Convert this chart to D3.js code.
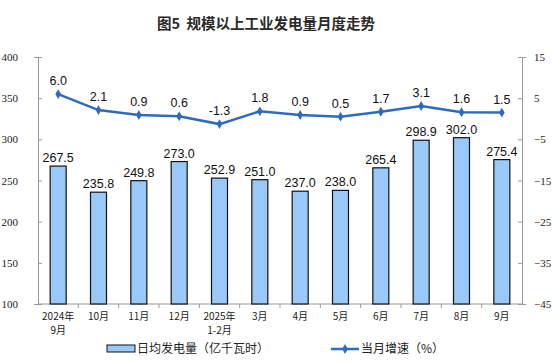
<!DOCTYPE html>
<html>
<head>
<meta charset="utf-8">
<script src="https://cdn.jsdelivr.net/npm/d3@7"></script>
<style>
  body { margin: 0; background: #fff; }
  svg { display: block; }
</style>
</head>
<body>
<svg id="chart"></svg>
<script>
const months = ["2024年|9月", "10月", "11月", "12月", "2025年|1-2月", "3月", "4月", "5月", "6月", "7月", "8月", "9月"];
const dailyOutput = [267.5, 235.8, 249.8, 273.0, 252.9, 251.0, 237.0, 238.0, 265.4, 298.9, 302.0, 275.4];
const growth = [6.0, 2.1, 0.9, 0.6, -1.3, 1.8, 0.9, 0.5, 1.7, 3.1, 1.6, 1.5];
const leftTicks = [100, 150, 200, 250, 300, 350, 400];
const rightTicks = [-45, -35, -25, -15, -5, 5, 15];

const width = 553, height = 362;
const margin = {top: 57, right: 31, bottom: 58, left: 38};
const innerW = width - margin.left - margin.right;
const innerH = height - margin.top - margin.bottom;

const svg = d3.select("#chart").attr("width", width).attr("height", height);

svg.append("text")
    .attr("x", 266).attr("y", 29)
    .attr("text-anchor", "middle")
    .style("font-family", "'Noto Sans CJK SC', sans-serif")
    .style("font-size", "14.5px")
    .style("font-weight", "bold")
    .style("white-space", "pre")
    .attr("fill", "#2a2a2a")
    .text("图5  规模以上工业发电量月度走势");

const g = svg.append("g").attr("transform", `translate(${margin.left},${margin.top})`);

const x = d3.scaleBand().domain(months).range([0, innerW]);
const yL = d3.scaleLinear().domain([100, 400]).range([innerH, 0]);
const yR = d3.scaleLinear().domain([-45, 15]).range([innerH, 0]);

const axisColor = "#999";
const tickFont = "'Liberation Serif', 'Times New Roman', serif";

// left axis
const la = g.append("g").call(d3.axisLeft(yL).tickValues(leftTicks).tickSize(4).tickPadding(10));
la.select(".domain").attr("stroke", axisColor);
la.selectAll(".tick line").attr("stroke", axisColor).attr("x2", 4);
la.selectAll("text").style("font-family", tickFont).style("font-size", "11px").attr("fill", "#222").attr("dx", "-6");

// right axis
const ra = g.append("g").attr("transform", `translate(${innerW},0)`)
    .call(d3.axisRight(yR).tickValues(rightTicks).tickSize(4).tickPadding(8));
ra.select(".domain").attr("stroke", axisColor);
ra.selectAll(".tick line").attr("stroke", axisColor).attr("x2", -4);
ra.selectAll("text").style("font-family", tickFont).style("font-size", "11px").attr("fill", "#222");

// bottom axis
const bx = g.append("g").attr("transform", `translate(0,${innerH})`);
bx.append("line").attr("x1", 0).attr("x2", innerW).attr("stroke", axisColor);
bx.selectAll("line.sep")
    .data(months.slice(1))
    .enter().append("line")
    .attr("class", "sep")
    .attr("x1", d => x(d)).attr("x2", d => x(d))
    .attr("y1", 0).attr("y2", 4)
    .attr("stroke", axisColor);
// one text per line so the two rows of a label stay apart
months.forEach(m => {
    m.split("|").forEach((part, i) => {
        bx.append("text")
            .attr("x", x(m) + x.bandwidth() / 2)
            .attr("y", 16 + i * 14)
            .attr("text-anchor", "middle")
            .style("font-family", "'Noto Sans CJK SC', sans-serif")
            .style("font-size", "10px")
            .attr("fill", "#222")
            .text(part);
    });
});

// bars
const barW = 16;
g.selectAll("rect.bar")
    .data(dailyOutput)
    .enter().append("rect")
    .attr("class", "bar")
    .attr("x", (d, i) => x(months[i]) + x.bandwidth() / 2 - barW / 2)
    .attr("y", d => yL(d))
    .attr("width", barW)
    .attr("height", d => innerH - yL(d))
    .attr("fill", "#99c9f9")
    .attr("stroke", "#111")
    .attr("stroke-width", 1.2);

g.selectAll("text.barlab")
    .data(dailyOutput)
    .enter().append("text")
    .attr("class", "barlab")
    .attr("x", (d, i) => x(months[i]) + x.bandwidth() / 2)
    .attr("y", d => yL(d) - 4)
    .attr("text-anchor", "middle")
    .style("font-family", "'Liberation Sans', Arial, sans-serif")
    .style("font-size", "12.5px")
    .attr("fill", "#111")
    .text(d => d.toFixed(1));

// line
const lineColor = "#2e6bbf";
const line = d3.line()
    .x((d, i) => x(months[i]) + x.bandwidth() / 2)
    .y(d => yR(d));
g.append("path")
    .datum(growth)
    .attr("d", line)
    .attr("fill", "none")
    .attr("stroke", lineColor)
    .attr("stroke-width", 2.5);

g.selectAll("path.marker")
    .data(growth)
    .enter().append("path")
    .attr("class", "marker")
    .attr("d", d3.symbol().type(d3.symbolDiamond).size(28))
    .attr("transform", (d, i) => `translate(${x(months[i]) + x.bandwidth() / 2},${yR(d)})`)
    .attr("fill", lineColor);

g.selectAll("text.linelab")
    .data(growth)
    .enter().append("text")
    .attr("class", "linelab")
    .attr("x", (d, i) => x(months[i]) + x.bandwidth() / 2)
    .attr("y", d => yR(d) - 9)
    .attr("text-anchor", "middle")
    .style("font-family", "'Liberation Sans', Arial, sans-serif")
    .style("font-size", "12.5px")
    .attr("fill", "#111")
    .text(d => d.toFixed(1));

// legend
const lg = svg.append("g").attr("transform", "translate(0,349)");
lg.append("rect").attr("x", 107).attr("y", -4).attr("width", 28).attr("height", 7)
    .attr("fill", "#99c9f9").attr("stroke", "#111").attr("stroke-width", 1);
lg.append("text").attr("x", 137).attr("y", 4)
    .style("font-family", "'Noto Sans CJK SC', sans-serif").style("font-size", "12px").attr("fill", "#222")
    .text("日均发电量（亿千瓦时）");
lg.append("line").attr("x1", 331).attr("x2", 359).attr("y1", 0).attr("y2", 0)
    .attr("stroke", lineColor).attr("stroke-width", 2.5);
lg.append("path").attr("d", d3.symbol().type(d3.symbolDiamond).size(28)).attr("transform", "translate(345,0)").attr("fill", lineColor);
lg.append("text").attr("x", 361).attr("y", 4)
    .style("font-family", "'Noto Sans CJK SC', sans-serif").style("font-size", "12px").attr("fill", "#222")
    .text("当月增速（%）");
</script>
</body>
</html>
